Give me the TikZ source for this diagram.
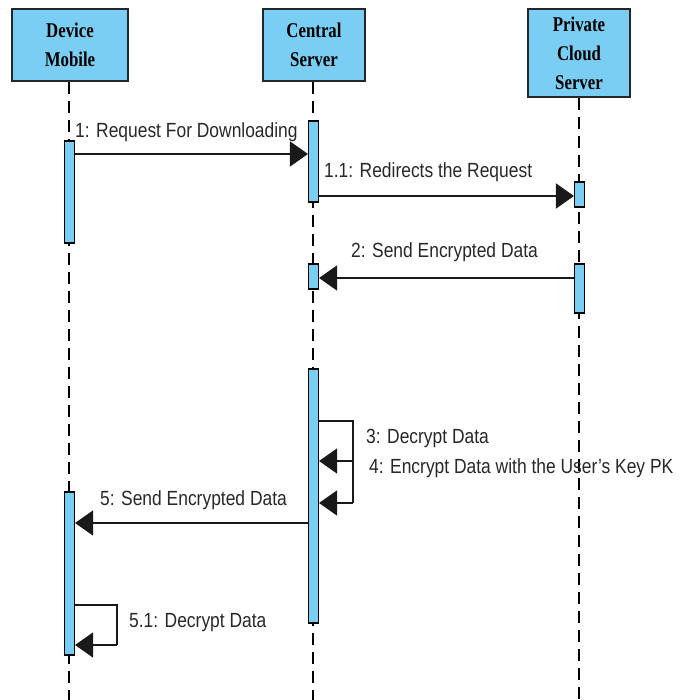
\documentclass[tikz,border=0pt]{standalone}
\usepackage{fontspec}
\setmainfont{Liberation Sans}[FakeStretch=0.85]
\newfontfamily\headfont{Liberation Serif}[FakeStretch=0.8]
\usetikzlibrary{arrows.meta}
\definecolor{lifeblue}{RGB}{122,206,244}
\definecolor{labelgray}{RGB}{40,40,40}
\begin{document}
\begin{tikzpicture}[x=1pt,y=-1pt,
  actor/.style={draw=black!85,line width=1.8pt,fill=lifeblue,inner sep=0pt,
    align=center,font=\headfont\bfseries\fontsize{21}{29}\selectfont},
  lifeline/.style={draw=black,line width=1.3pt,dash pattern=on 12pt off 7pt},
  actbar/.style={draw=black,line width=1.1pt,fill=lifeblue,inner sep=0pt,minimum width=10pt},
  seg/.style={draw=black!90,line width=1.4pt},
  msg/.style={seg,-{Triangle[length=18pt,width=25pt]}},
  msglabel/.style={anchor=base west,inner sep=0pt,text=labelgray,
    font=\fontsize{20.5}{24}\selectfont}]
\useasboundingbox (0,0) rectangle (691,700);

% participants
\node[actor,minimum width=116pt,minimum height=72pt] (dev) at (70,45) {Device\\Mobile};
\node[actor,minimum width=102pt,minimum height=72pt] (cen) at (314,45) {Central\\Server};
\node[actor,minimum width=102pt,minimum height=88pt] (prv) at (579,53) {Private\\Cloud\\Server};

% lifelines
\coordinate (devend) at (69,700);
\coordinate (cenend) at (313,700);
\coordinate (prvend) at (579,700);
\draw[lifeline] (dev.south -| devend) -- (devend);
\draw[lifeline] (cen.south -| cenend) -- (cenend);
\draw[lifeline] (prv.south -| prvend) -- (prvend);

% activation bars
\node[actbar,minimum height=102pt] (d1) at (69.5,192) {};
\node[actbar,minimum height=163pt] (d2) at (69.5,573.5) {};
\node[actbar,minimum height=81pt]  (c1) at (313.5,161.5) {};
\node[actbar,minimum height=25pt]  (c2) at (313.5,276.5) {};
\node[actbar,minimum height=254pt] (c3) at (313.5,496) {};
\node[actbar,minimum height=25pt]  (p1) at (579.5,194.5) {};
\node[actbar,minimum height=49pt]  (p2) at (579.5,288.5) {};

% message rows
\coordinate (r1) at (0,154);
\coordinate (r11) at (0,196);
\coordinate (r2) at (0,278);
\coordinate (r3a) at (0,421);
\coordinate (r3b) at (0,461);
\coordinate (r4) at (0,503);
\coordinate (r5) at (0,523);
\coordinate (r51a) at (0,605);
\coordinate (r51b) at (0,645);
\coordinate (k3a) at (353,421);
\coordinate (k3b) at (353,461);
\coordinate (k4) at (353,503);
\coordinate (k51a) at (117,605);
\coordinate (k51b) at (117,645);

% 1 and 1.1
\draw[msg] (d1.east |- r1) -- (c1.west |- r1);
\node[msglabel] (l1) at (75,138) {1: Request For Downloading};
\draw[msg] (c1.east |- r11) -- (p1.west |- r11);
\node[msglabel] (l11) at (324,178) {1.1: Redirects the Request};

% 2
\draw[msg] (p2.west |- r2) -- (c2.east |- r2);
\node[msglabel] (l2) at (351,258) {2: Send Encrypted Data};

% 3 and 4: self calls on the central server
\draw[seg] (c3.east |- r3a) -- (k3a) -- (k4);
\draw[msg] (k3b) -- (c3.east |- r3b);
\draw[msg] (k4) -- (c3.east |- r4);
\node[msglabel] (l3) at (366,443) {3: Decrypt Data};
\node[msglabel] (l4) at (369,473) {4: Encrypt Data with the User's Key PK};

% 5
\draw[msg] (c3.west |- r5) -- (d2.east |- r5);
\node[msglabel] (l5) at (100,505) {5: Send Encrypted Data};

% 5.1: self call on the mobile device
\draw[seg] (d2.east |- r51a) -- (k51a) -- (k51b);
\draw[msg] (k51b) -- (d2.east |- r51b);
\node[msglabel] (l51) at (129,627) {5.1: Decrypt Data};
\end{tikzpicture}
\end{document}
